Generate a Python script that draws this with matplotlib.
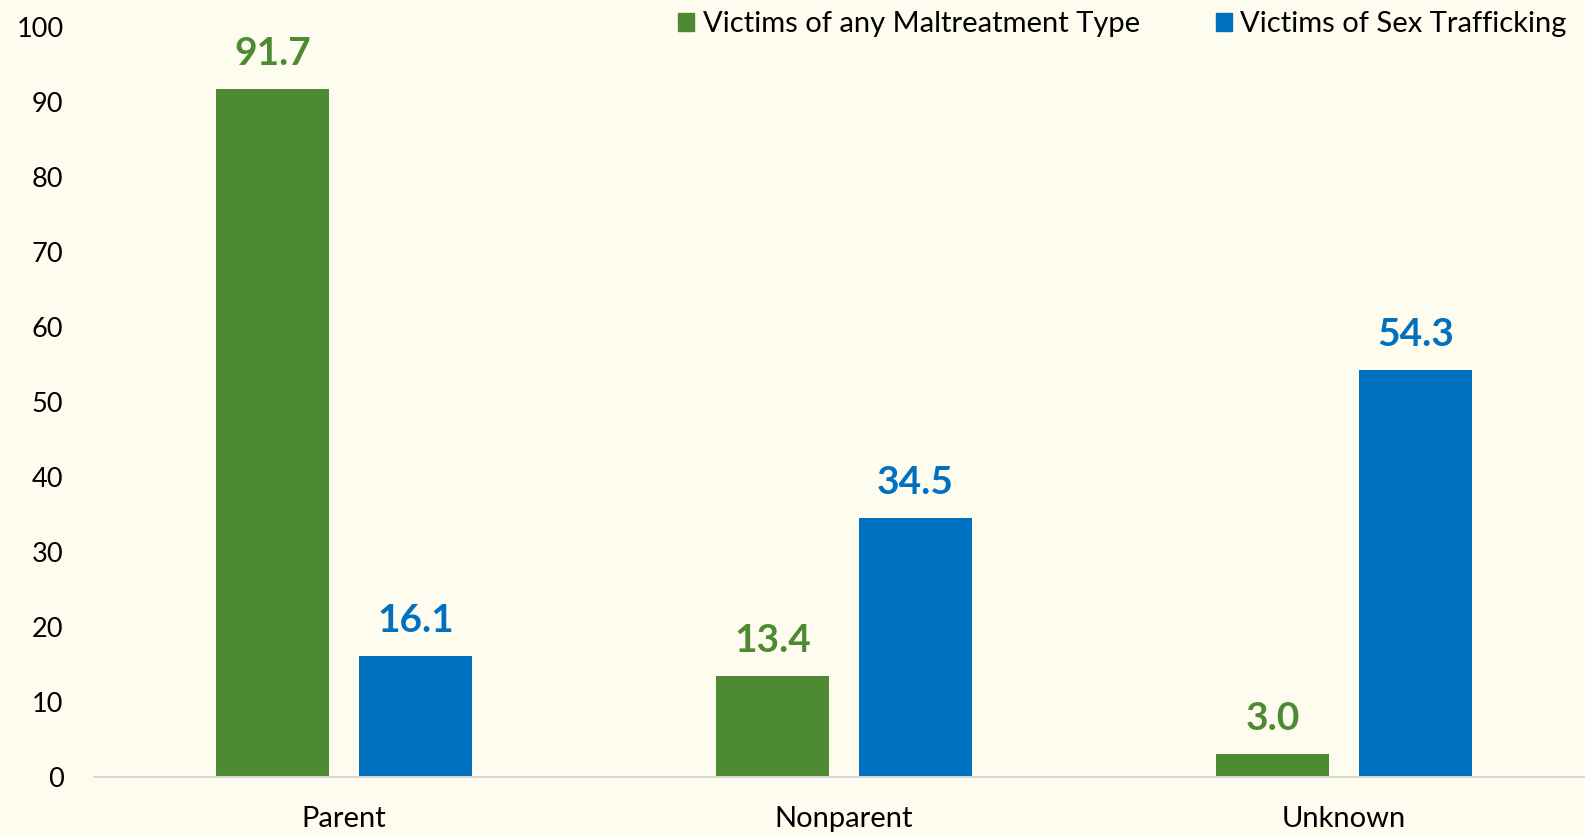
import matplotlib
matplotlib.use("Agg")
import matplotlib.pyplot as plt
import numpy as np
from matplotlib.patches import Patch

categories = ["Parent", "Nonparent", "Unknown"]
any_maltreatment = [91.7, 13.4, 3.0]
sex_trafficking = [16.1, 34.5, 54.3]
series_names = ["Victims of any Maltreatment Type", "Victims of Sex Trafficking"]
yticks = [0, 10, 20, 30, 40, 50, 60, 70, 80, 90, 100]

GREEN = "#4E8A32"
BLUE = "#0070C0"
BG = "#FEFBEF"

plt.rcParams["font.family"] = ["Lato", "DejaVu Sans"]

fig = plt.figure(figsize=(15.85, 8.36), dpi=100, facecolor=BG)
ax = fig.add_axes([0.0593, 0.0706, 1500 / 1585, 0.8971])
ax.set_facecolor(BG)

x = np.arange(len(categories))
width = 0.225
offset = 0.143

bars1 = ax.bar(x - offset, any_maltreatment, width, color=GREEN)
bars2 = ax.bar(x + offset, sex_trafficking, width, color=BLUE)

for bars, vals, col in [(bars1, any_maltreatment, GREEN), (bars2, sex_trafficking, BLUE)]:
    for b, v in zip(bars, vals):
        ax.annotate(f"{v:.1f}", (b.get_x() + b.get_width() / 2, v),
                    xytext=(0, 13), textcoords="offset points",
                    ha="center", va="bottom", fontsize=28,
                    fontweight="bold", color=col)

ax.set_xlim(-0.5, len(categories) - 0.5)
ax.set_ylim(0, 100)
ax.set_yticks(yticks)
ax.set_xticks(x)
ax.set_xticklabels(categories)
ax.tick_params(axis="y", length=0, pad=22, labelsize=19.5)
ax.tick_params(axis="x", length=0, pad=21, labelsize=21)

for s in ["top", "right", "left"]:
    ax.spines[s].set_visible(False)
ax.spines["bottom"].set_color("#D9D9D9")
ax.spines["bottom"].set_linewidth(1.5)

handles = [Patch(color=GREEN), Patch(color=BLUE)]
fig.legend(handles, series_names, loc="upper right", ncol=2,
           bbox_to_anchor=(1.005, 1.018), frameon=False, fontsize=21,
           handlelength=0.55, handleheight=0.55, handletextpad=0.3,
           columnspacing=2.6)

fig.savefig("out.png", dpi=100, facecolor=BG)
